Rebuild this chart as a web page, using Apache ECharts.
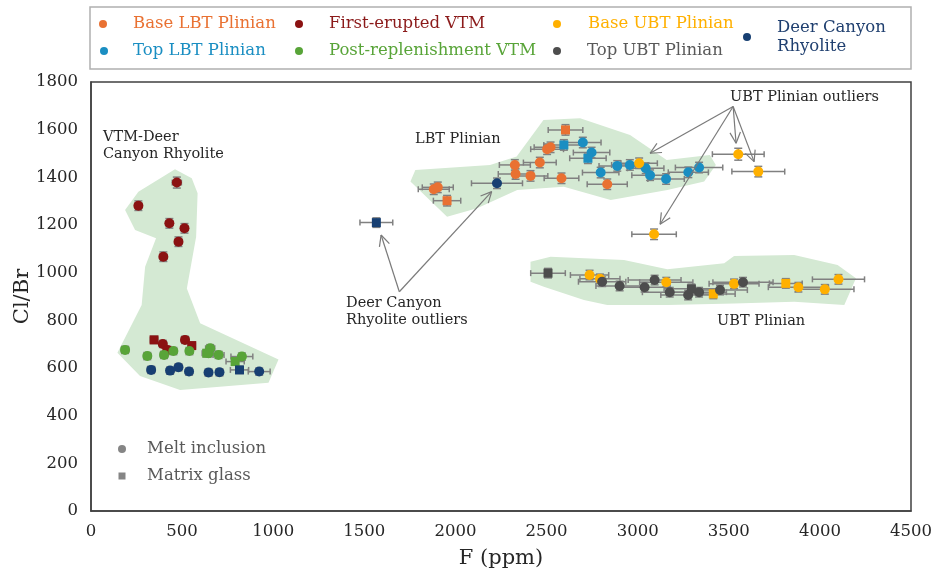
<!DOCTYPE html>
<html><head><meta charset="utf-8">
<script src="https://cdn.jsdelivr.net/npm/echarts@6/dist/echarts.min.js"></script>
<style>html,body{margin:0;padding:0;background:#fff}#c{width:937px;height:574px}</style>
</head><body><div id="c"></div>
<script>
// ---------- DATA ----------
// kind: 'MI' = melt inclusion (circle), 'MG' = matrix glass (square)
const baseLBT_F     = [1881,1903,2326,2330,2412,2463,2503,2522,2582,2833,1954,2604];
const baseLBT_ClBr  = [1350,1358,1452,1414,1406,1462,1518,1526,1396,1371,1302,1599];
const baseLBT_Ferr  = [85,85,85,95,95,90,90,90,95,110,75,95];
const baseLBT_Yerr  = [22,22,22,22,22,22,22,22,22,22,22,22];
const baseLBT_kind  = ['MI','MI','MI','MI','MI','MI','MI','MI','MI','MI','MG','MG'];

const topLBT_F      = [2699,2747,2797,2888,2957,3044,3068,3156,3278,3337,2595,2727];
const topLBT_ClBr   = [1546,1504,1420,1448,1452,1438,1409,1393,1421,1441,1536,1480];
const topLBT_Ferr   = [100,100,100,100,100,100,100,100,110,130,110,100];
const topLBT_Yerr   = [22,22,22,22,22,22,22,22,22,22,22,22];
const topLBT_kind   = ['MI','MI','MI','MI','MI','MI','MI','MI','MI','MI','MG','MG'];

const firstVTM_F    = [471,260,430,513,480,397,394,516,419,346,553];
const firstVTM_ClBr = [1378,1281,1207,1186,1130,1067,701,718,676,718,694];
const firstVTM_Ferr = [25,20,20,20,20,20,20,20,20,20,20];
const firstVTM_Yerr = [23,20,20,20,20,20,15,15,15,15,15];
const firstVTM_kind = ['MI','MI','MI','MI','MI','MI','MI','MI','MI','MG','MG'];

const postVTM_F     = [187,309,401,452,540,654,645,700,828,635,791];
const postVTM_ClBr  = [676,650,655,671,671,683,662,655,648,662,627];
const postVTM_Ferr  = [20,20,20,20,20,25,25,30,60,25,50];
const postVTM_Yerr  = [15,15,15,15,15,15,15,15,15,15,15];
const postVTM_kind  = ['MI','MI','MI','MI','MI','MI','MI','MI','MI','MG','MG'];

const baseUBT_F     = [3008,3552,3662,3090,2736,2793,3157,3529,3882,4027,4102,3415,3813];
const baseUBT_ClBr  = [1459,1497,1424,1161,990,974,960,953,939,930,972,911,955];
const baseUBT_Ferr  = [100,142,145,122,105,110,146,137,165,160,143,120,90];
const baseUBT_Yerr  = [22,25,22,22,20,20,20,20,20,20,20,20,20];
const baseUBT_kind  = ['MI','MI','MI','MI','MI','MI','MI','MI','MI','MI','MI','MG','MG'];

const topUBT_F      = [2805,2901,3038,3093,3176,3277,3337,3452,3578,2508,3295];
const topUBT_ClBr   = [962,944,939,969,918,906,918,927,960,998,932];
const topUBT_Ferr   = [130,130,140,145,150,150,150,150,165,95,150];
const topUBT_Yerr   = [20,20,20,20,20,20,20,20,20,20,20];
const topUBT_kind   = ['MI','MI','MI','MI','MI','MI','MI','MI','MI','MG','MG'];

const deer_F        = [330,434,480,538,645,705,923,815,1566,2228];
const deer_ClBr     = [592,589,603,585,581,582,585,592,1210,1375];
const deer_Ferr     = [20,20,20,20,20,20,60,50,90,140];
const deer_Yerr     = [15,15,15,15,15,15,15,15,20,22];
const deer_kind     = ['MI','MI','MI','MI','MI','MI','MI','MG','MG','MI'];

// shaded field outlines (F, Cl/Br)
const vtmField = [[461,1434],[553,1396],[585,1333],[577,1151],[526,934],[599,788],[1029,636],[974,538],[489,508],[269,566],[145,664],[278,864],[297,1025],[357,1144],[242,1179],[187,1263],[260,1340]];
const lbtField = [[1753,1382],[1780,1431],[2190,1452],[2336,1487],[2483,1641],[2684,1648],[2958,1578],[3159,1473],[3396,1494],[3429,1452],[3365,1382],[3163,1347],[2852,1305],[2595,1361],[2339,1347],[2119,1270],[1954,1235]];
const ubtField = [[2412,1046],[2522,1067],[2925,1053],[3163,1014],[3475,1039],[3529,1070],[3859,1074],[4097,1032],[4198,977],[4134,864],[3859,878],[3529,871],[3163,864],[2833,864],[2705,885],[2485,941],[2412,962]];

// annotation arrows (F, Cl/Br)
const ubtArrowFrom = [3524,1697];
const ubtArrowTo   = [[3068,1501],[3540,1543],[3639,1466],[3123,1203]];
const dcArrowFrom  = [1692,920];
const dcArrowTo    = [[1592,1158],[2199,1340]];

// ---------- CHART ----------
const SERIF = 'DejaVu Serif';
const groups = [
  {name:'Base LBT Plinian', color:'#E97132', F:baseLBT_F, Y:baseLBT_ClBr, Fe:baseLBT_Ferr, Ye:baseLBT_Yerr, k:baseLBT_kind},
  {name:'Top LBT Plinian', color:'#1A8EC2', F:topLBT_F, Y:topLBT_ClBr, Fe:topLBT_Ferr, Ye:topLBT_Yerr, k:topLBT_kind},
  {name:'First-erupted VTM', color:'#8B1212', F:firstVTM_F, Y:firstVTM_ClBr, Fe:firstVTM_Ferr, Ye:firstVTM_Yerr, k:firstVTM_kind},
  {name:'Post-replenishment VTM', color:'#58A438', F:postVTM_F, Y:postVTM_ClBr, Fe:postVTM_Ferr, Ye:postVTM_Yerr, k:postVTM_kind},
  {name:'Base UBT Plinian', color:'#FFB000', F:baseUBT_F, Y:baseUBT_ClBr, Fe:baseUBT_Ferr, Ye:baseUBT_Yerr, k:baseUBT_kind},
  {name:'Top UBT Plinian', color:'#4D4D4D', F:topUBT_F, Y:topUBT_ClBr, Fe:topUBT_Ferr, Ye:topUBT_Yerr, k:topUBT_kind},
  {name:'Deer Canyon Rhyolite', color:'#173F72', F:deer_F, Y:deer_ClBr, Fe:deer_Ferr, Ye:deer_Yerr, k:deer_kind}
];
const legendText = {
  'Base LBT Plinian':'#E97132','Top LBT Plinian':'#1A8EC2','First-erupted VTM':'#8B1A1A',
  'Post-replenishment VTM':'#58A438','Base UBT Plinian':'#FFB000','Top UBT Plinian':'#595959',
  'Deer Canyon Rhyolite':'#1F3F6F'
};

const series = [];
const fields = [vtmField, lbtField, ubtField];
series.push({
  type:'custom', name:'_fields', silent:true, z:1, clip:false,
  data: fields.map((f,i)=>[i]),
  encode:{x:-1,y:-1},
  renderItem:(params, api)=>{
    const pts = fields[params.dataIndex].map(p=>api.coord(p));
    return {type:'polygon', shape:{points:pts}, style:{fill:'#D4E9D3'}};
  }
});

function errRender(params, api){
  const x=api.value(0), y=api.value(1), ex=api.value(2), ey=api.value(3);
  const c=api.coord([x,y]), l=api.coord([x-ex,y]), r=api.coord([x+ex,y]);
  const t=api.coord([x,y+ey]), b=api.coord([x,y-ey]);
  const st={stroke:'#808080', lineWidth:1.5};
  const hc=3, vc=4;
  return {type:'group', children:[
    {type:'line', shape:{x1:l[0],y1:c[1],x2:r[0],y2:c[1]}, style:st},
    {type:'line', shape:{x1:l[0],y1:c[1]-hc,x2:l[0],y2:c[1]+hc}, style:st},
    {type:'line', shape:{x1:r[0],y1:c[1]-hc,x2:r[0],y2:c[1]+hc}, style:st},
    {type:'line', shape:{x1:c[0],y1:t[1],x2:c[0],y2:b[1]}, style:st},
    {type:'line', shape:{x1:c[0]-vc,y1:t[1],x2:c[0]+vc,y2:t[1]}, style:st},
    {type:'line', shape:{x1:c[0]-vc,y1:b[1],x2:c[0]+vc,y2:b[1]}, style:st}
  ]};
}

groups.forEach(g=>{
  series.push({
    type:'custom', name:'_err_'+g.name, silent:true, z:2, clip:false,
    encode:{x:0,y:1},
    data: g.F.map((f,i)=>[f, g.Y[i], g.Fe[i], g.Ye[i]]),
    renderItem: errRender
  });
});
groups.forEach(g=>{
  series.push({
    type:'scatter', name:g.name, z:3,
    itemStyle:{color:g.color, opacity:1},
    symbol:'circle',
    data: g.F.map((f,i)=>({
      value:[f, g.Y[i]],
      symbol: g.k[i]==='MG' ? 'rect' : 'circle',
      symbolSize: g.k[i]==='MG' ? 9 : 10
    }))
  });
});
// marker-type key
series.push({type:'scatter', name:'Melt inclusion', symbol:'circle', itemStyle:{color:'#666'}, data:[]});
series.push({type:'scatter', name:'Matrix glass', symbol:'rect', itemStyle:{color:'#666'}, data:[]});

// arrows
const arrows = [];
ubtArrowTo.forEach(t=>arrows.push([ubtArrowFrom, t]));
dcArrowTo.forEach(t=>arrows.push([dcArrowFrom, t]));
series.push({
  type:'custom', name:'_arrows', silent:true, z:4, clip:false,
  data: arrows.map((a,i)=>[i]),
  encode:{x:-1,y:-1},
  renderItem:(params, api)=>{
    const a = arrows[params.dataIndex];
    const p0 = api.coord(a[0]), p1 = api.coord(a[1]);
    const ang = Math.atan2(p0[1]-p1[1], p0[0]-p1[0]);
    const L = 12, s = 0.45;
    const st = {stroke:'#7a7a7a', lineWidth:1.2};
    return {type:'group', children:[
      {type:'line', shape:{x1:p0[0],y1:p0[1],x2:p1[0],y2:p1[1]}, style:st},
      {type:'line', shape:{x1:p1[0],y1:p1[1],x2:p1[0]+L*Math.cos(ang+s),y2:p1[1]+L*Math.sin(ang+s)}, style:st},
      {type:'line', shape:{x1:p1[0],y1:p1[1],x2:p1[0]+L*Math.cos(ang-s),y2:p1[1]+L*Math.sin(ang-s)}, style:st}
    ]};
  }
});

function legendItem(name, iconX, iconY, textX, icon, color, lines){
  const S = icon==='rect' ? 7 : 8;
  const lh = 19;
  const n = lines || 1;
  return {
    data:[name], left: iconX - S/2, top: iconY - n*lh/2, orient:'vertical', padding:0,
    icon: icon, itemWidth: S, itemHeight: S, selectedMode:false,
    formatter: nm => nm==='Deer Canyon Rhyolite' ? 'Deer Canyon\nRhyolite' : nm,
    textStyle:{fontFamily:SERIF, fontSize:16.5, color: color, lineHeight: lh,
      padding:[0,0,0, textX - (iconX - S/2) - S - 5]}
  };
}

const legends = [
  legendItem('Base LBT Plinian', 103, 24, 133, 'circle', legendText['Base LBT Plinian']),
  legendItem('Top LBT Plinian', 104, 51, 133, 'circle', legendText['Top LBT Plinian']),
  legendItem('First-erupted VTM', 299, 24, 329, 'circle', legendText['First-erupted VTM']),
  legendItem('Post-replenishment VTM', 299, 51, 329, 'circle', legendText['Post-replenishment VTM']),
  legendItem('Base UBT Plinian', 557, 24, 588, 'circle', legendText['Base UBT Plinian']),
  legendItem('Top UBT Plinian', 557, 51, 587, 'circle', legendText['Top UBT Plinian']),
  legendItem('Deer Canyon Rhyolite', 747, 37, 777, 'circle', legendText['Deer Canyon Rhyolite'], 2),
  legendItem('Melt inclusion', 122, 449, 147, 'circle', '#595959'),
  legendItem('Matrix glass', 122, 476, 147, 'rect', '#595959')
];

const annFont = '14.5px "DejaVu Serif"';
const option = {
  animation:false,
  backgroundColor:'#fff',
  grid:{left:91, right:26, top:82, bottom:63, show:true, borderColor:'#404040', borderWidth:1.5, containLabel:false, outerBoundsMode:'none'},
  xAxis:{type:'value', min:0, max:4500, interval:500,
    name:'F (ppm)', nameLocation:'middle', nameGap:37, nameMoveOverlap:false,
    nameTextStyle:{fontFamily:SERIF, fontSize:21, color:'#262626'},
    axisLine:{show:true, lineStyle:{color:'#404040', width:1.5}},
    axisTick:{show:false}, splitLine:{show:false},
    axisLabel:{fontFamily:SERIF, fontSize:16.5, color:'#262626', margin:12, formatter: v => String(v)}},
  yAxis:{type:'value', min:0, max:1800, interval:200,
    name:'Cl/Br', nameLocation:'middle', nameGap:58, nameMoveOverlap:false,
    nameTextStyle:{fontFamily:SERIF, fontSize:21, color:'#262626'},
    axisLine:{show:true, lineStyle:{color:'#404040', width:1.5}},
    axisTick:{show:false}, splitLine:{show:false},
    axisLabel:{fontFamily:SERIF, fontSize:16.5, color:'#262626', margin:13, formatter: v => String(v)}},
  legend: legends,
  graphic:[
    {type:'rect', shape:{x:90, y:7, width:821, height:62}, style:{fill:'none', stroke:'#b0b0b0', lineWidth:1.5}, z:-1},
    {type:'text', style:{text:'VTM-Deer\nCanyon Rhyolite', x:103, y:145.5, verticalAlign:'middle', font:annFont, fill:'#262626', lineHeight:17.5}},
    {type:'text', style:{text:'LBT Plinian', x:415, y:139.5, verticalAlign:'middle', font:annFont, fill:'#262626'}},
    {type:'text', style:{text:'UBT Plinian outliers', x:730, y:97, verticalAlign:'middle', font:annFont, fill:'#262626'}},
    {type:'text', style:{text:'UBT Plinian', x:717, y:321, verticalAlign:'middle', font:annFont, fill:'#262626'}},
    {type:'text', style:{text:'Deer Canyon\nRhyolite outliers', x:346, y:311.7, verticalAlign:'middle', font:annFont, fill:'#262626', lineHeight:16.7}}
  ],
  series: series
};
const chart = echarts.init(document.getElementById('c'), null, {renderer:'canvas'});
chart.setOption(option);
</script></body></html>
